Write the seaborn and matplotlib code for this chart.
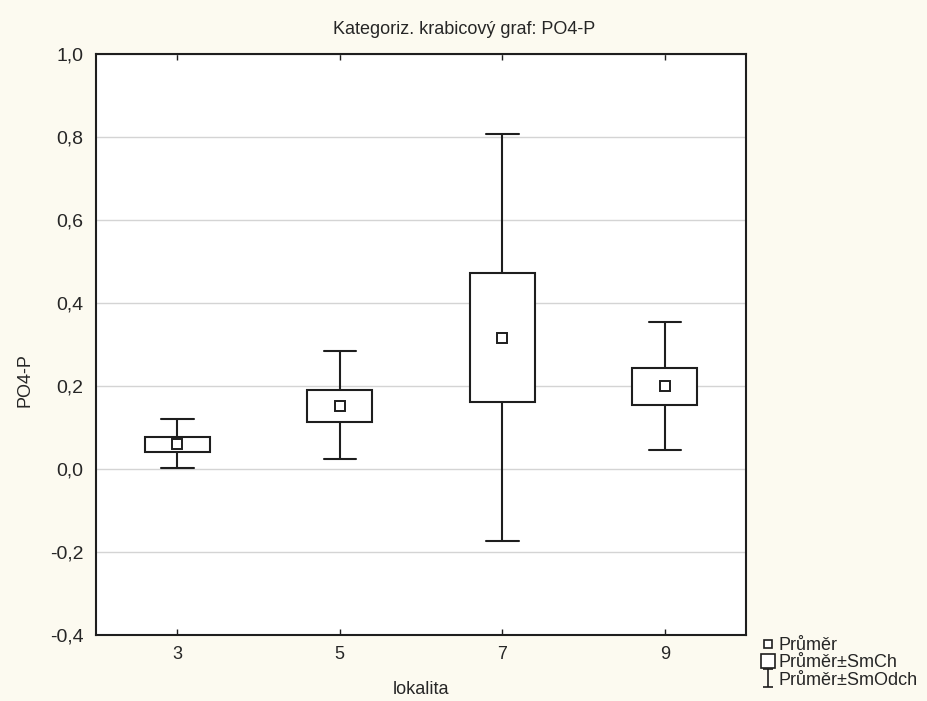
import pandas as pd
import numpy as np
import matplotlib
matplotlib.use("Agg")
import matplotlib.pyplot as plt
import matplotlib.ticker as mticker
from matplotlib.lines import Line2D
from matplotlib.path import Path
import seaborn as sns

# --- Data ---
lokalita = ["3", "5", "7", "9"]
prumer = [0.060, 0.152, 0.316, 0.200]        # mean
smch_lo = [0.041, 0.113, 0.161, 0.154]       # mean - SE
smch_hi = [0.077, 0.190, 0.472, 0.243]       # mean + SE
smodch_lo = [0.002, 0.024, -0.173, 0.046]    # mean - SD
smodch_hi = [0.120, 0.284, 0.807, 0.354]     # mean + SD

# five points per group -> quartiles = SE box, min/max = SD whiskers
rows = []
for i, lok in enumerate(lokalita):
    for v in (smodch_lo[i], smch_lo[i], prumer[i], smch_hi[i], smodch_hi[i]):
        rows.append({"lokalita": lok, "PO4-P": v})
df = pd.DataFrame(rows)
means = pd.DataFrame({"lokalita": lokalita, "PO4-P": prumer})

# --- Style ---
sns.set_style("white")
plt.rcParams["font.family"] = ["Liberation Sans", "DejaVu Sans"]
fs = 13
line_col = "#1e1e1e"
text_col = "#262626"

fig = plt.figure(figsize=(9.28, 7.01), dpi=100, facecolor="#fcfaf0")
ax = fig.add_axes([96 / 928, 1 - 635 / 701, 650 / 928, 581 / 701])
ax.set_facecolor("white")

sns.boxplot(data=df, x="lokalita", y="PO4-P", order=lokalita, whis=(0, 100),
            width=0.4, color="white", linecolor=line_col, linewidth=1.5,
            showfliers=False, medianprops={"visible": False},
            capwidths=0.2, ax=ax)

sns.pointplot(data=means, x="lokalita", y="PO4-P", order=lokalita,
              linestyle="none", marker="s", markersize=6.5,
              markerfacecolor="white", markeredgecolor=line_col,
              markeredgewidth=1.4, color=line_col, errorbar=None, ax=ax)
for ln in ax.lines[-1:]:
    ln.set_zorder(6)

ax.set_ylim(-0.4, 1.0)
ax.set_xlim(-0.5, 3.5)
ax.yaxis.set_major_locator(mticker.MultipleLocator(0.2))
ax.yaxis.set_major_formatter(mticker.FuncFormatter(
    lambda v, p: f"{v:.1f}".replace(".", ",").replace("-0,0", "0,0")))
ax.yaxis.grid(True, color="#d4d4d4", linewidth=1)
ax.set_axisbelow(True)

for s in ax.spines.values():
    s.set_visible(True)
    s.set_color(line_col)
    s.set_linewidth(1.5)

ax.tick_params(axis="y", direction="out", length=4, width=1, color=line_col,
               labelsize=14, labelcolor=text_col, pad=5)
ax.tick_params(axis="x", direction="in", length=4, width=1, color=line_col,
               top=True, bottom=True, labelsize=fs, labelcolor=text_col, pad=8)

fig.text(0.5, 1 - 30 / 701, "Kategoriz. krabicový graf: PO4-P", fontsize=fs,
         color=text_col, ha="center", va="center")
ax.set_xlabel("lokalita", fontsize=fs, color=text_col)
ax.xaxis.set_label_coords(0.5, (635 - 681) / 581)
ax.set_ylabel("PO4-P", fontsize=fs, color=text_col)
ax.yaxis.set_label_coords((34 - 96) / 650, (635 - 380) / 581)

# --- Legend ---
ibeam = Path([(-0.5, 1), (0.5, 1), (0, 1), (0, -1), (-0.5, -1), (0.5, -1)],
             [Path.MOVETO, Path.LINETO, Path.MOVETO, Path.LINETO, Path.MOVETO, Path.LINETO])
handles = [
    Line2D([], [], linestyle="none", marker="s", markersize=5.5, markerfacecolor="white",
           markeredgecolor=line_col, markeredgewidth=1.2),
    Line2D([], [], linestyle="none", marker="s", markersize=10.5, markerfacecolor="white",
           markeredgecolor=line_col, markeredgewidth=1.2),
    Line2D([], [], linestyle="none", marker=ibeam, markersize=13, markerfacecolor="none",
           markeredgecolor=line_col, markeredgewidth=1.2),
]
labels = ["Průměr", "Průměr±SmCh", "Průměr±SmOdch"]
fig.legend(handles, labels, loc="upper left", bbox_to_anchor=(749 / 928, 1 - 626 / 701),
           frameon=False, handlelength=0.9, handletextpad=0.15, labelspacing=0.02,
           borderpad=0.1, fontsize=fs, labelcolor=text_col)

fig.savefig("out.png", dpi=100, facecolor=fig.get_facecolor())
